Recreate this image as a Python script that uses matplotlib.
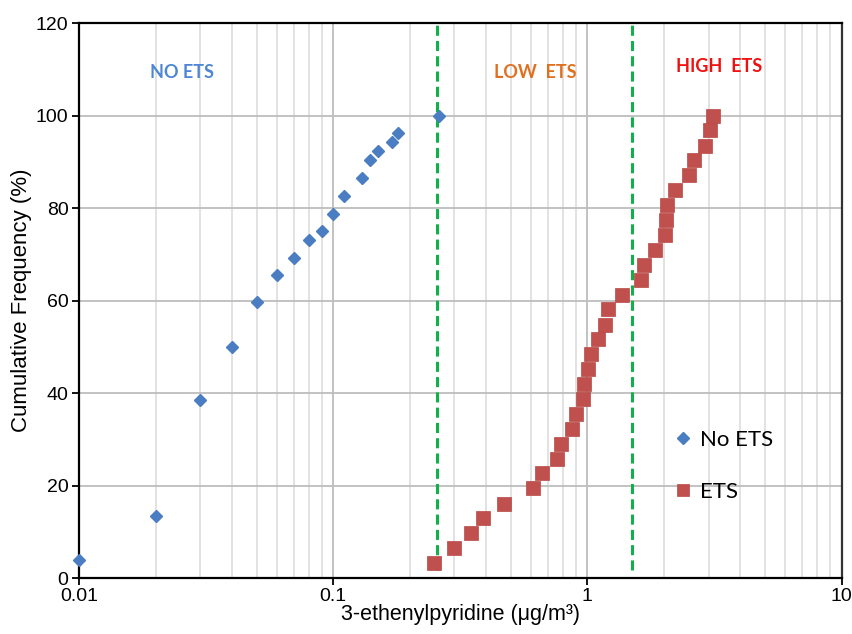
import matplotlib
matplotlib.use("Agg")
import matplotlib.pyplot as plt
from matplotlib.ticker import LogLocator, NullFormatter, FixedLocator, FixedFormatter

# cumulative frequency data
no_ets_conc = [0.01, 0.02, 0.03, 0.04, 0.05, 0.06, 0.07, 0.08, 0.09, 0.1,
               0.11, 0.13, 0.14, 0.15, 0.17, 0.18, 0.26]
no_ets_freq = [3.9, 13.4, 38.4, 50.0, 59.7, 65.5, 69.3, 73.1, 75.0, 78.8,
               82.7, 86.5, 90.4, 92.3, 94.2, 96.2, 100.0]

ets_conc = [0.25, 0.30, 0.35, 0.39, 0.47, 0.61, 0.66, 0.76, 0.79, 0.87,
            0.90, 0.96, 0.97, 1.01, 1.03, 1.10, 1.17, 1.20, 1.37, 1.63,
            1.67, 1.84, 2.02, 2.04, 2.05, 2.21, 2.51, 2.63, 2.89, 3.03, 3.11]
ets_freq = [3.2, 6.5, 9.7, 12.9, 16.1, 19.4, 22.6, 25.8, 29.0, 32.3,
            35.5, 38.7, 41.9, 45.2, 48.4, 51.6, 54.8, 58.1, 61.3, 64.5,
            67.7, 71.0, 74.2, 77.4, 80.6, 83.9, 87.1, 90.3, 93.5, 96.8, 100.0]

cutoffs = [0.255, 1.5]
x_ticks = [0.01, 0.1, 1, 10]
x_tick_labels = ["0.01", "0.1", "1", "10"]

plt.rcParams['font.family'] = ['Liberation Sans', 'DejaVu Sans']

fig = plt.figure(figsize=(8.53, 6.34), dpi=100)
ax = fig.add_axes([0.0926, 0.0883, 0.894, 0.8754])

ax.set_xscale('log')
ax.set_xlim(0.01, 10)
ax.set_ylim(0, 120)

# grid
ax.xaxis.set_major_locator(FixedLocator(x_ticks))
ax.xaxis.set_major_formatter(FixedFormatter(x_tick_labels))
ax.xaxis.set_minor_locator(LogLocator(base=10, subs=range(2, 10)))
ax.xaxis.set_minor_formatter(NullFormatter())
ax.set_yticks(range(0, 121, 20))
ax.grid(which='major', axis='both', color='#bdbdbd', lw=1.3, zorder=0)
ax.grid(which='minor', axis='x', color='#dadada', lw=1.1, zorder=0)
ax.set_axisbelow(True)

ax.tick_params(axis='both', which='major', labelsize=14, length=5, width=1.3,
               direction='out', color='black', pad=2.5)
ax.tick_params(axis='x', which='minor', length=0)
for s in ax.spines.values():
    s.set_linewidth(1.6)
    s.set_color('black')
ax.spines['right'].set_color('#333333')

for c in cutoffs:
    ax.axvline(c, ymin=0.015, ymax=1, color='#10b04a', lw=2.2,
               dashes=(3.3, 1.7), zorder=2)

ax.plot(no_ets_conc, no_ets_freq, ls='none', marker='D', ms=6.5,
        color='#4a7dc2', label='No ETS', zorder=3, clip_on=False)
ax.plot(ets_conc, ets_freq, ls='none', marker='s', ms=9.5,
        color='#c0504d', markeredgecolor='#b84744', mew=0.5,
        label='ETS', zorder=3)

ax.text(0.0254, 109.2, 'NO ETS', color='#4f86d4', fontsize=13, fontweight='bold',
        family=['Lato', 'DejaVu Sans'], ha='center', va='center')
ax.text(0.625, 109.2, 'LOW  ETS', color='#e07020', fontsize=13, fontweight='bold',
        family=['Lato', 'DejaVu Sans'], ha='center', va='center')
ax.text(3.3, 110.7, 'HIGH  ETS', color='#f01010', fontsize=13, fontweight='bold',
        family=['Lato', 'DejaVu Sans'], ha='center', va='center')

ax.legend(loc='center left', bbox_to_anchor=(0.766, 0.202), frameon=False,
          prop={'family': ['Lato', 'DejaVu Sans'], 'size': 16},
          handlelength=0.8, handletextpad=0.35, labelspacing=1.45, borderpad=0,
          markerscale=0.9)

ax.set_ylabel('Cumulative Frequency (%)', fontsize=16, labelpad=3)
ax.set_xlabel('3-ethenylpyridine (\u03bcg/m\u00b3)', fontsize=15.5, labelpad=-1)

fig.savefig('out.png', dpi=100)
